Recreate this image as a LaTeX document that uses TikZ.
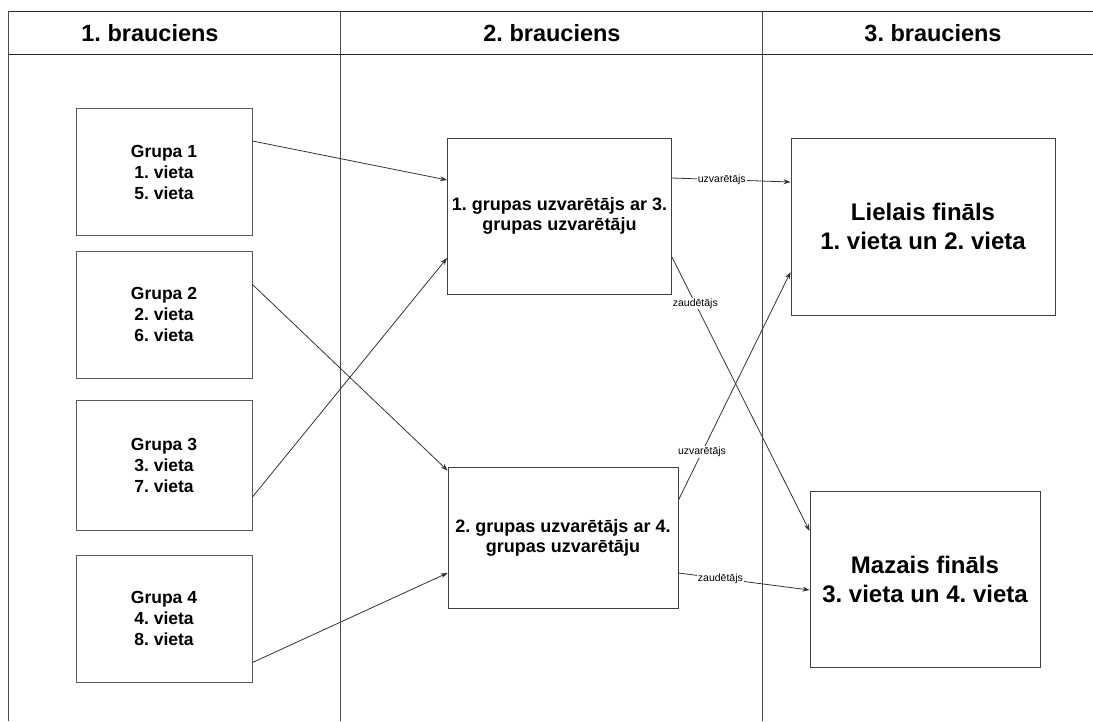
\documentclass[tikz,border=0pt]{standalone}
\usepackage{fontspec}
\setmainfont{Liberation Sans}
\usepackage{tikz}
\usetikzlibrary{arrows.meta}
\frenchspacing

\begin{document}
\begin{tikzpicture}
            [x=1pt,y=-1pt,thick,line width=0.9pt,>={Stealth[length=7pt,width=5pt]},
             grupa/.style={draw=black!65,fill=white,minimum width=176pt,minimum height=127pt,align=center,font=\fontsize{17.5}{21}\selectfont\bfseries},
             spele/.style={draw=black!75,fill=white,align=center,font=\fontsize{18}{20}\selectfont\bfseries},
             fin/.style={draw=black!75,fill=white,align=center,font=\fontsize{24}{29}\selectfont\bfseries},
             head/.style={font=\fontsize{23.5}{27}\selectfont\bfseries},
             lbl/.style={fill=white,inner sep=1pt,font=\fontsize{10.5}{12}\selectfont},
             every edge/.style={draw=black!80,line width=0.8pt}]
            \useasboundingbox (0,0) rectangle (1093,721);
            % tabula
            \draw [black!85] (8,11) -- (1093,11);
            \draw [black!85] (8,54) -- (1093,54);
            \draw [black!70] (8,11) -- (8,721);
            \draw [black!70] (340,11) -- (340,721);
            \draw [black!70] (762,11) -- (762,721);
            \node [head] (h1) at (150,33) {1. brauciens};
            \node [head] (h2) at (552,33) {2. brauciens};
            \node [head] (h3) at (933,33) {3. brauciens};

            \node [grupa] (g1) at (164,172) {Grupa 1\\1. vieta\\5. vieta};
            \node [grupa] (g2) at (164,314.5) {Grupa 2\\2. vieta\\6. vieta};
            \node [grupa,minimum height=130pt] (g3) at (164,465) {Grupa 3\\3. vieta\\7. vieta};
            \node [grupa] (g4) at (164,618.5) {Grupa 4\\4. vieta\\8. vieta};

            \node [spele,minimum width=224pt,minimum height=156pt] (m1) at (559.5,216) {1. grupas uzvarētājs ar 3.\\grupas uzvarētāju};
            \node [spele,minimum width=230pt,minimum height=141pt] (m2) at (563,537.5) {2. grupas uzvarētājs ar 4.\\grupas uzvarētāju};

            \node [fin,minimum width=264pt,minimum height=177pt] (lf) at (923,226.5) {Lielais fināls\\1. vieta un 2. vieta};
            \node [fin,minimum width=230pt,minimum height=176pt] (mf) at (925,579) {Mazais fināls\\3. vieta un 4. vieta};

            \path [->] ([yshift=31pt]g1.east) edge ([yshift=36pt]m1.west);
            \path [->] ([yshift=30pt]g2.east) edge ([yshift=67pt]m2.west);
            \path [->] ([yshift=-32pt]g3.east) edge ([yshift=-42pt]m1.west);
            \path [->] ([yshift=-44pt]g4.east) edge ([yshift=-35.5pt]m2.west);

            \path [->] ([yshift=38pt]m1.east) edge node [lbl,pos=0.42] {uzvarētājs} ([yshift=44.5pt]lf.west);
            \path [->] ([yshift=-41pt]m1.east) edge node [lbl,pos=0.17] {zaudētājs} ([yshift=48pt]mf.west);
            \path [->] ([yshift=37.5pt]m2.east) edge node [lbl,pos=0.21] {uzvarētājs} ([yshift=-45.5pt]lf.west);
            \path [->] ([yshift=-35.5pt]m2.east) edge node [lbl,pos=0.32] {zaudētājs} ([yshift=-11pt]mf.west);
        \end{tikzpicture}
\end{document}
